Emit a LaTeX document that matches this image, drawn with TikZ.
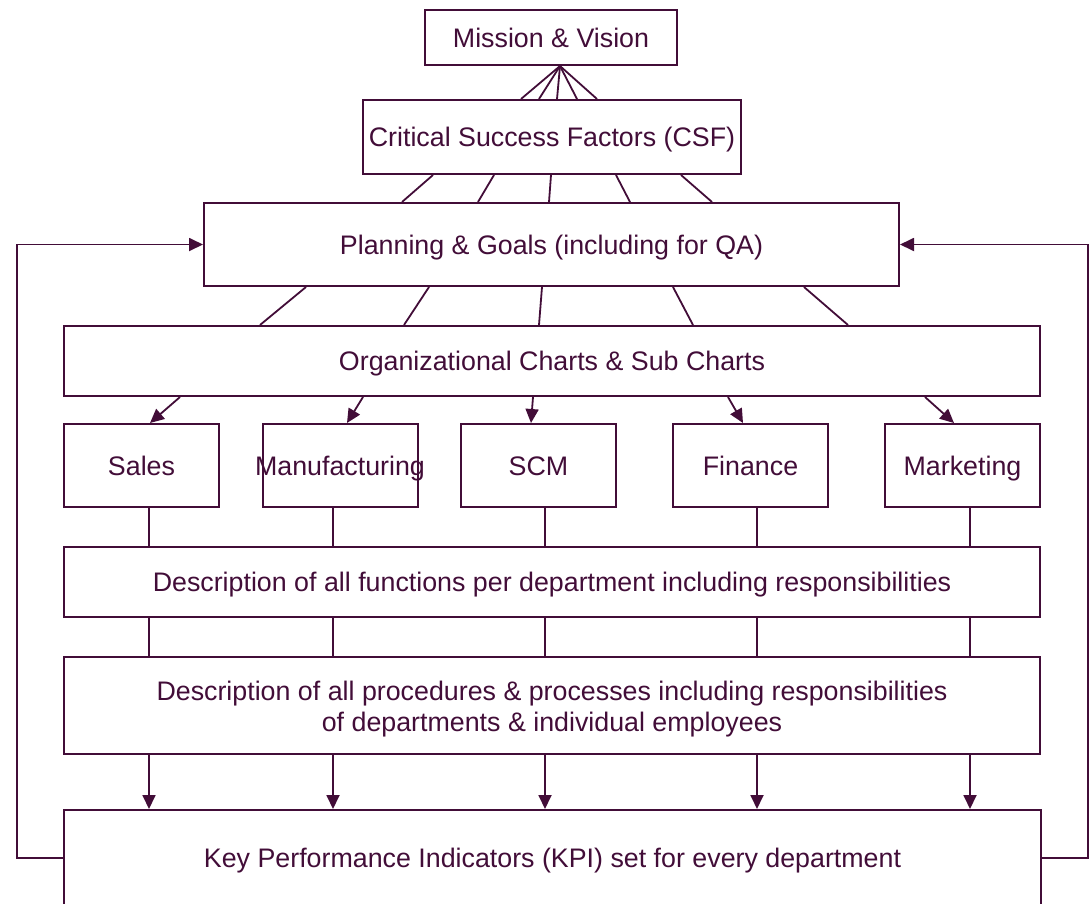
\documentclass[tikz,border=0pt]{standalone}
\usepackage{fontspec}
\setmainfont{Liberation Sans}
\usetikzlibrary{arrows.meta,calc}
\definecolor{ink}{HTML}{420D38}
\begin{document}
\begin{tikzpicture}[x=1pt,y=-1pt,
  box/.style={draw=ink,line width=2pt,text=ink,font=\fontsize{26.8}{31}\selectfont,inner sep=0pt,align=center,text height=19pt,text depth=0pt},
  dept/.style={box,minimum width=155,minimum height=83},
  conn/.style={draw=ink,line width=1.8pt},
  arr/.style={conn,-{Triangle[length=14pt,width=13pt]}}]
\useasboundingbox (0,0) rectangle (1090,903);
\clip (0,0) rectangle (1090,903);
% boxes
\node[box,minimum width=252,minimum height=55] (mv) at (551,37.5) {Mission \& Vision};
\node[box,minimum width=378,minimum height=74] (csf) at (552,137) {Critical Success Factors (CSF)};
\node[box,minimum width=695,minimum height=83] (pg) at (551.5,244.5) {Planning \& Goals (including for QA)};
\node[box,minimum width=976,minimum height=70] (org) at (552,361) {Organizational Charts \& Sub Charts};
\node[dept] (sales) at (141.5,465.5) {Sales};
\node[dept] (manu) at (340,465.5) {\makebox[0pt][c]{Manufacturing}};
\node[dept] (scm) at (538.5,465.5) {SCM};
\node[dept] (fin) at (750.5,465.5) {Finance};
\node[dept] (mkt) at (962.5,465.5) {Marketing};
\node[box,minimum width=976,minimum height=70] (d1) at (552,582) {Description of all functions per department including responsibilities};
\node[box,minimum width=976,minimum height=97,text height=,text depth=] (d2) at (552,705.5) {};
\node[text=ink,font=\fontsize{26.8}{31}\selectfont,inner sep=0pt,align=center] (d2t) at ([yshift=-4pt]d2.center) {Description of all procedures \& processes including responsibilities\\of departments \& individual employees};
\node[box,minimum width=977,minimum height=96] (kpi) at (552.5,858) {Key Performance Indicators (KPI) set for every department};
% fans
\foreach \b in {-31,-13,5,25,45}
  \draw[conn] ([xshift=9pt]mv.south) -- ([xshift=\b pt]csf.north);
\foreach \a/\b in {-119/-149.5,-58/-73.5,-1/-2.5,64/78.5,129/160.5}
  \draw[conn] ([xshift=\a pt]csf.south) -- ([xshift=\b pt]pg.north);
\foreach \a/\b in {-245.5/-292,-122.5/-148,-9.5/-13,121.5/141,252.5/296}
  \draw[conn] ([xshift=\a pt]pg.south) -- ([xshift=\b pt]org.north);
% org to departments
\foreach \a/\n/\b in {-372/sales/8.5,-189/manu/7,-19/scm/-7.5,176/fin/-7.5,373/mkt/-8.5}
  \draw[arr] ([xshift=\a pt]org.south) -- ([xshift=\b pt]\n.north);
% departments down
\foreach \n/\o in {sales/7.5,manu/-7,scm/6.5,fin/6.5,mkt/7.5}{
  \coordinate (c\n) at ([xshift=\o pt]\n.south);
  \draw[conn] (c\n) -- (c\n |- d1.north);
  \draw[conn] (c\n |- d1.south) -- (c\n |- d2.north);
  \draw[arr] (c\n |- d2.south) -- (c\n |- kpi.north);
}
% feedback loops
\coordinate (lf) at (17,0);
\coordinate (rf) at (1088,0);
\draw[arr] (kpi.west) -- (kpi.west -| lf) |- (pg.west);
\draw[arr] (kpi.east) -- (kpi.east -| rf) |- (pg.east);
\end{tikzpicture}
\end{document}
